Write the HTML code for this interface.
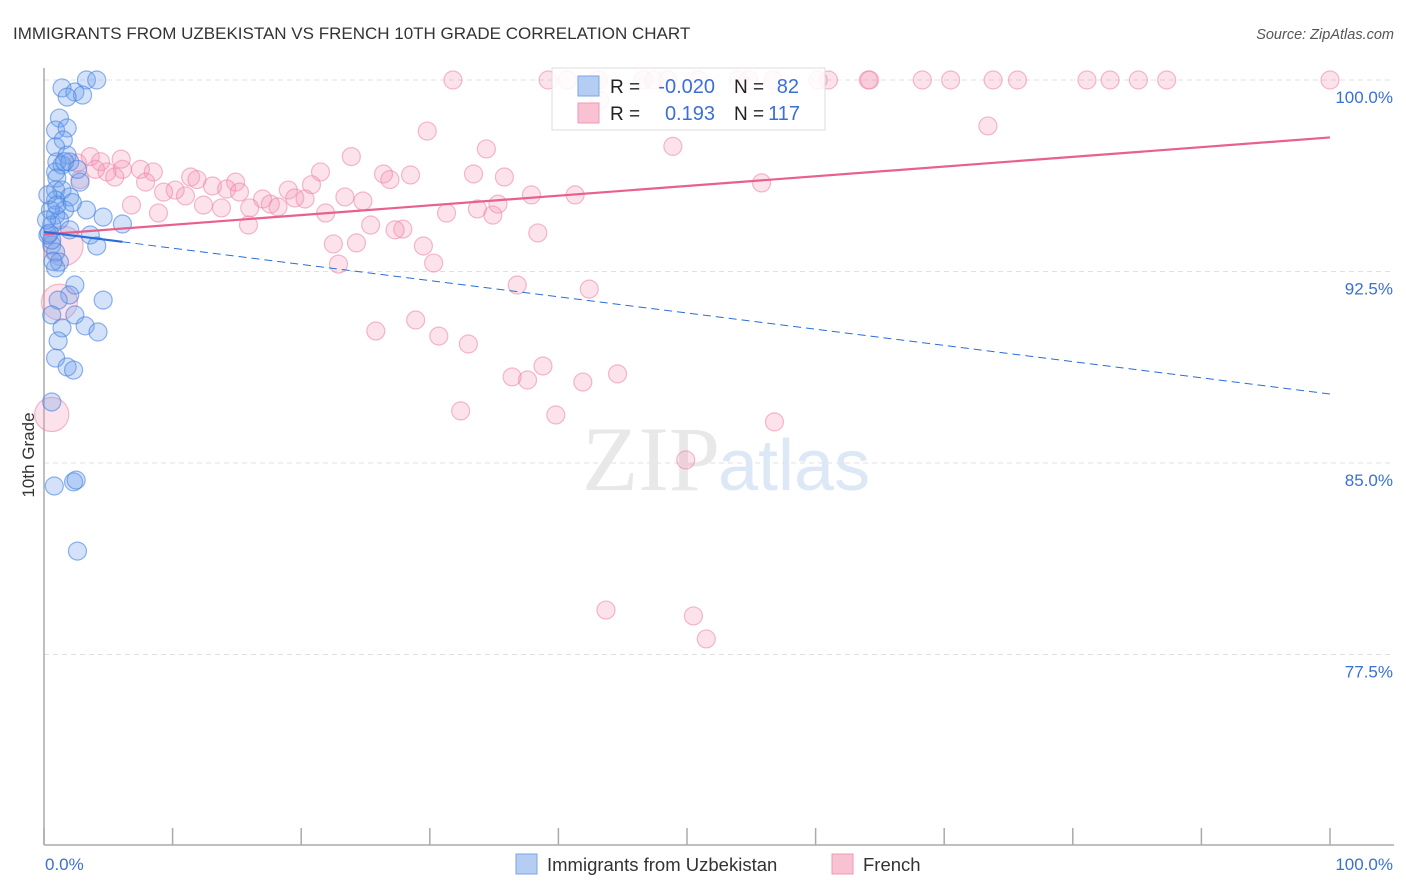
<!DOCTYPE html>
<html><head><meta charset="utf-8"><style>
body{margin:0;background:#fff;font-family:"Liberation Sans",sans-serif;}
svg{display:block}
</style></head><body>
<svg id="chart" width="1406" height="892">
<text x="13" y="39" font-size="17" fill="#333">IMMIGRANTS FROM UZBEKISTAN VS FRENCH 10TH GRADE CORRELATION CHART</text>
<text x="1394" y="39" font-size="14.5" fill="#555" text-anchor="end" font-style="italic">Source: ZipAtlas.com</text>
<text x="0" y="0" transform="translate(34,455) rotate(-90)" font-size="17" fill="#333" text-anchor="middle">10th Grade</text>
<g id="grid"></g>
<text x="720" y="490" font-size="92" fill="#e8e8e8" text-anchor="end" font-family="Liberation Serif,serif">ZIP</text>
<text x="718" y="490" font-size="72" fill="#dde8f7">atlas</text>
<g id="marks"></g>
<g id="legend">
<rect x="552" y="68" width="273" height="62" fill="#fff" fill-opacity="0.85" stroke="#ddd"/>
<rect x="578" y="76" width="21" height="20" fill="#b5cdf3" stroke="#7aa5e8"/>
<rect x="578" y="103" width="21" height="20" fill="#f8c2d3" stroke="#f09ab6"/>
<text x="610" y="93" font-size="19" fill="#222">R =</text>
<text x="715" y="93" font-size="20" fill="#3a70d6" text-anchor="end">-0.020</text>
<text x="734" y="93" font-size="19" fill="#222">N =</text>
<text x="799" y="93" font-size="20" fill="#3a70d6" text-anchor="end">82</text>
<text x="610" y="120" font-size="19" fill="#222">R =</text>
<text x="715" y="120" font-size="20" fill="#3a70d6" text-anchor="end">0.193</text>
<text x="734" y="120" font-size="19" fill="#222">N =</text>
<text x="800" y="120" font-size="20" fill="#3a70d6" text-anchor="end">117</text>
</g>
<g>
<rect x="516" y="854" width="21" height="20" fill="#b5cdf3" stroke="#7aa5e8"/>
<text x="547" y="871" font-size="18.5" fill="#333">Immigrants from Uzbekistan</text>
<rect x="832" y="854" width="21" height="20" fill="#f8c2d3" stroke="#f09ab6"/>
<text x="863" y="871" font-size="18.5" fill="#333">French</text>
</g>
</svg>
<script>
const yTicks=[100,92.5,85,77.5];
const yTickLabels=["100.0%","92.5%","85.0%","77.5%"];
const xTickCount=10;
const xLabels=["0.0%","100.0%"];
const blueX=[3.3,4.1,1.4,2.4,3.0,1.8,1.2,0.9,1.8,1.5,0.9,1.8,1.0,1.4,2.0,0.9,1.0,2.8,0.9,1.4,2.0,0.9,1.6,3.3,4.6,0.9,1.2,0.6,2.0,6.1,3.6,4.1,0.6,0.9,1.2,0.9,2.4,2.0,1.1,4.6,0.6,2.4,1.4,3.2,4.2,1.1,0.9,1.8,2.3,0.6,0.8,2.3,2.5,2.6,0.6,0.3,0.5,0.2,0.3,1.0,2.6,1.6,2.2,0.4,0.7];
const blueY=[100,100,99.69,99.53,99.41,99.33,98.51,98.04,98.12,97.65,97.38,97.06,96.79,96.67,96.79,96.4,96.16,96.0,95.69,95.69,95.42,95.3,94.91,94.91,94.63,94.71,94.52,94.32,94.13,94.36,93.93,93.5,93.54,93.26,92.87,92.64,91.97,91.58,91.38,91.38,90.8,90.8,90.29,90.37,90.13,89.78,89.11,88.76,88.64,87.39,84.1,84.26,84.33,81.55,93.73,93.93,94.91,94.52,95.5,95.1,96.5,96.8,95.2,94.0,92.9];
const pinkX=[31.8,39.2,40.7,43.1,46.6,47.4,48.5,50.9,54.0,54.8,56.7,60.2,61.0,64.1,64.2,68.3,70.5,73.8,75.7,81.1,82.9,85.1,87.3,100,
29.8,73.4,48.9,34.4,23.9,3.6,4.4,2.6,6.1,7.5,4.9,5.5,8.5,2.8,7.9,11.4,11.9,14.9,21.5,20.8,13.1,14.2,10.2,9.3,11.0,15.2,19.0,23.4,17.0,19.5,20.3,17.6,18.2,16.0,12.4,13.8,6.8,8.9,21.9,24.8,26.4,26.9,28.5,33.4,35.8,37.9,41.3,55.8,35.3,33.7,34.9,31.3,25.4,27.9,27.3,38.4,15.9,22.5,24.3,29.5,22.9,30.3,36.8,42.4,25.8,28.9,30.7,33.0,36.4,37.6,38.8,41.9,44.6,32.4,39.8,56.8,49.9,43.7,50.5,51.5,43.2,6.0,4.0,0.6,1.5,1.2];
const pinkY=[100,100,100,100,100,100,100,100,100,100,100,100,100,100,100,100,100,100,100,100,100,100,100,100,
98.0,98.2,97.4,97.3,97.0,97.0,96.8,96.75,96.5,96.5,96.4,96.2,96.4,96.1,96.0,96.2,96.1,96.0,96.4,95.9,95.85,95.73,95.69,95.61,95.46,95.61,95.69,95.42,95.34,95.38,95.34,95.14,95.03,94.99,95.1,94.99,95.1,94.79,94.79,95.26,96.32,96.1,96.28,96.32,96.2,95.5,95.5,95.97,95.14,94.95,94.71,94.79,94.32,94.16,94.13,94.01,94.32,93.58,93.62,93.5,92.79,92.83,91.97,91.81,90.17,90.6,89.97,89.66,88.37,88.25,88.8,88.17,88.49,87.04,86.88,86.61,85.12,79.24,79.01,78.11,99.2,96.9,96.5,86.9,93.5,91.3];
const pinkWeight=[];for(let i=0;i<pinkX.length;i++)pinkWeight.push(1);
pinkWeight[pinkX.length-3]=1.9;pinkWeight[pinkX.length-2]=2.2;pinkWeight[pinkX.length-1]=2.0;
const blueTrend=[94.05,87.7];
const pinkTrend=[93.95,97.75];
const NS="http://www.w3.org/2000/svg";
const X0=44,X1=1330,Y100=80,PX_PER=191.5/7.5;
const sx=v=>X0+(X1-X0)*v/100;
const sy=v=>Y100+(100-v)*PX_PER;
function mk(tag,attrs,parent){const e=document.createElementNS(NS,tag);for(const k in attrs)e.setAttribute(k,attrs[k]);parent.appendChild(e);return e;}
const grid=document.getElementById('grid'),marks=document.getElementById('marks');
yTicks.forEach((t,i)=>{
 const l=mk('line',{x1:X0,x2:1394,y1:sy(t),y2:sy(t),stroke:'#e0e0e0','stroke-dasharray':'5,4'},grid);
 
 
 const tx=mk('text',{x:1393,y:sy(t)+23,'font-size':17,fill:'#3a70d6','text-anchor':'end'},grid);
 tx.textContent=yTickLabels[i];
 
 
});
const ya=mk('line',{x1:X0,x2:X0,y1:68,y2:845,stroke:'#aaa','stroke-width':1.5},grid);


const xa=mk('line',{x1:X0,x2:1394,y1:845,y2:845,stroke:'#aaa','stroke-width':1.5},grid);


for(let i=0;i<=xTickCount;i++){
 const t=mk('line',{x1:sx(i*10),x2:sx(i*10),y1:828,y2:845,stroke:'#aaa','stroke-width':1.5},grid);
 
 
}
[[xLabels[0],45,'start'],[xLabels[1],1393,'end']].forEach(a=>{
 const t=mk('text',{x:a[1],y:870,'font-size':17,fill:'#3a70d6','text-anchor':a[2]},grid);
 t.textContent=a[0];
 
 
});
pinkX.forEach((x,i)=>{
 const c=mk('circle',{cx:sx(x),cy:sy(pinkY[i]),r:9*pinkWeight[i],fill:'rgba(244,150,180,0.28)',stroke:'rgba(236,130,165,0.55)','stroke-width':1.2},marks);
 
 
});
blueX.forEach((x,i)=>{
 const c=mk('circle',{cx:sx(x),cy:sy(blueY[i]),r:9,fill:'rgba(110,160,235,0.3)',stroke:'rgba(70,130,225,0.6)','stroke-width':1.2},marks);
 
 
});
const pt=mk('line',{x1:sx(0),y1:sy(pinkTrend[0]),x2:sx(100),y2:sy(pinkTrend[1]),stroke:'#e8608f','stroke-width':2.2},marks);


const bEnd=blueTrend[0]+(blueTrend[1]-blueTrend[0])*0.061;
const bs=mk('line',{x1:sx(0),y1:sy(blueTrend[0]),x2:sx(6.1),y2:sy(bEnd),stroke:'#2a6dd9','stroke-width':2.2},marks);


const bd=mk('line',{x1:sx(6.1),y1:sy(bEnd),x2:sx(100),y2:sy(blueTrend[1]),stroke:'#2a6dd9','stroke-width':1,'stroke-dasharray':'8,5'},marks);


</script>
</body></html>
